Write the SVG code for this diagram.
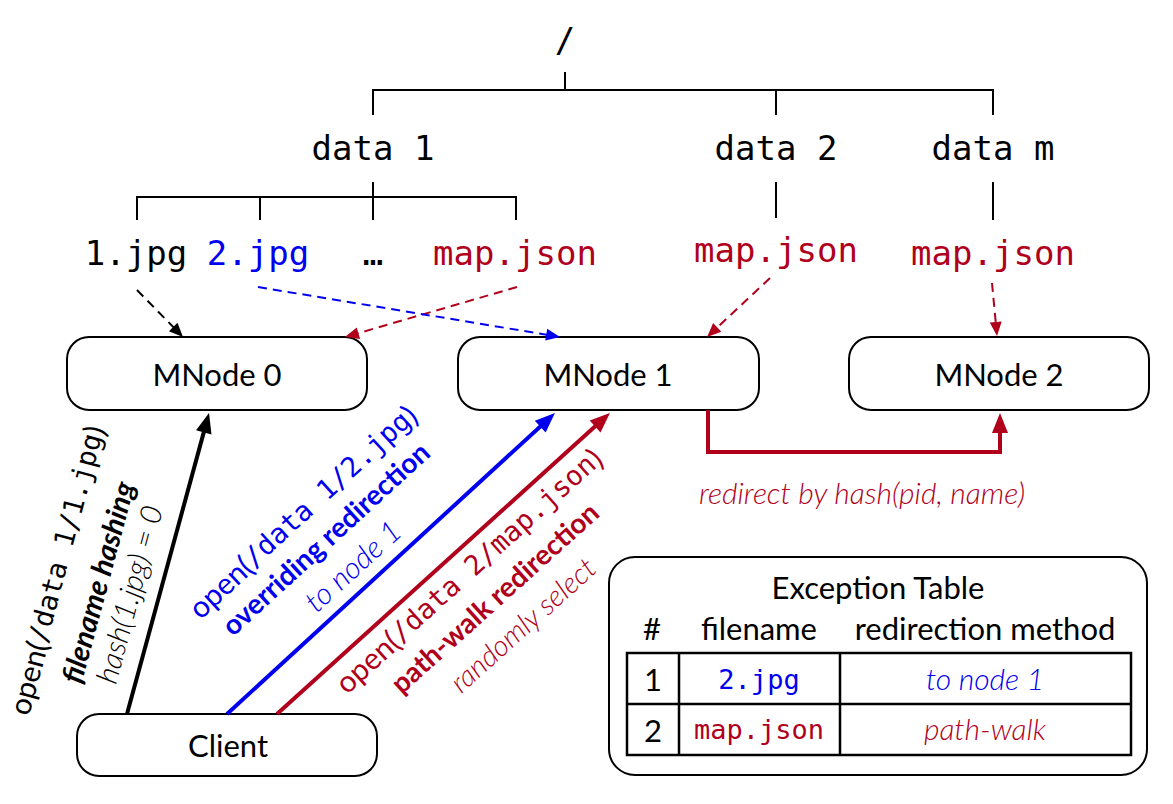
<svg xmlns="http://www.w3.org/2000/svg" width="1173" height="804" viewBox="0 0 1173 804">
<style>
.mono{font-family:"DejaVu Sans Mono","Liberation Mono",monospace;}
.sans{font-family:Lato,"Open Sans","Liberation Sans",sans-serif;}
.it{font-style:italic;font-weight:300;}
.tree{stroke:#000;stroke-width:2;fill:none;}
.box{fill:#fff;stroke:#000;stroke-width:2;}
.blk{fill:#000;} .blu{fill:#0000ee;} .red{fill:#b0001c;}
.dash{stroke-width:2;stroke-dasharray:9,6;fill:none;}
.solid{stroke-width:4;fill:none;}
</style>
<defs>
<marker id="hk" markerUnits="userSpaceOnUse" markerWidth="20" markerHeight="16" refX="2" refY="8" orient="auto" overflow="visible"><path d="M0,0 L20,8 L0,16 z" fill="#000"/></marker>
<marker id="hb" markerUnits="userSpaceOnUse" markerWidth="20" markerHeight="16" refX="2" refY="8" orient="auto" overflow="visible"><path d="M0,0 L20,8 L0,16 z" fill="#0000ee"/></marker>
<marker id="hr" markerUnits="userSpaceOnUse" markerWidth="20" markerHeight="16" refX="2" refY="8" orient="auto" overflow="visible"><path d="M0,0 L20,8 L0,16 z" fill="#b0001c"/></marker>
<marker id="dk" markerUnits="userSpaceOnUse" markerWidth="14" markerHeight="12" refX="2" refY="6" orient="auto" overflow="visible"><path d="M0,0 L14,6 L0,12 z" fill="#000"/></marker>
<marker id="db" markerUnits="userSpaceOnUse" markerWidth="14" markerHeight="12" refX="2" refY="6" orient="auto" overflow="visible"><path d="M0,0 L14,6 L0,12 z" fill="#0000ee"/></marker>
<marker id="dr" markerUnits="userSpaceOnUse" markerWidth="14" markerHeight="12" refX="2" refY="6" orient="auto" overflow="visible"><path d="M0,0 L14,6 L0,12 z" fill="#b0001c"/></marker>
</defs>

<g id="tree">
<text class="mono blk" x="565" y="52" font-size="34" text-anchor="middle">/</text>
<path class="tree" d="M565,72 V90 M373,115 V90 H993 V115 M776,90 V115"/>
<text class="mono blk" x="373" y="160" font-size="34" text-anchor="middle">data 1</text>
<text class="mono blk" x="776" y="160" font-size="34" text-anchor="middle">data 2</text>
<text class="mono blk" x="993" y="160" font-size="34" text-anchor="middle">data m</text>
<path class="tree" d="M373,182 V220 M137,220 V197 H516 V220 M260,197 V220 M776,182 V218 M993,182 V220"/>
<text class="mono blk" x="136" y="265" font-size="34" text-anchor="middle">1.jpg</text>
<text class="mono blu" x="258" y="265" font-size="34" text-anchor="middle">2.jpg</text>
<text class="mono blk" x="373" y="265" font-size="34" text-anchor="middle">…</text>
<text class="mono red" x="515" y="265" font-size="34" text-anchor="middle">map.json</text>
<text class="mono red" x="776" y="262" font-size="34" text-anchor="middle">map.json</text>
<text class="mono red" x="993" y="265" font-size="34" text-anchor="middle">map.json</text>
</g>

<g id="mnode0"><rect class="box" x="67" y="337" width="300" height="73" rx="22"/><text class="sans blk" x="217" y="386" font-size="31" text-anchor="middle">MNode 0</text></g>
<g id="mnode1"><rect class="box" x="458" y="337" width="301" height="73" rx="22"/><text class="sans blk" x="608" y="386" font-size="31" text-anchor="middle">MNode 1</text></g>
<g id="mnode2"><rect class="box" x="849" y="337" width="300" height="73" rx="22"/><text class="sans blk" x="999" y="386" font-size="31" text-anchor="middle">MNode 2</text></g>
<g id="client"><rect class="box" x="77" y="714" width="300" height="62" rx="22"/><text class="sans blk" x="228" y="757" font-size="31" text-anchor="middle">Client</text></g>

<g id="connectors">
<line class="dash" stroke="#000" x1="137" y1="290" x2="174.6" y2="328.4" marker-end="url(#dk)"/>
<line class="dash" stroke="#b0001c" x1="517" y1="287" x2="356.5" y2="333.7" marker-end="url(#dr)"/>
<line class="dash" stroke="#0000ee" x1="258" y1="287" x2="548.2" y2="335" marker-end="url(#db)"/>
<line class="dash" stroke="#b0001c" x1="770" y1="278" x2="715.8" y2="328.8" marker-end="url(#dr)"/>
<line class="dash" stroke="#b0001c" x1="992" y1="283" x2="995.9" y2="324" marker-end="url(#dr)"/>
<line class="solid" stroke="#000" x1="127" y1="714" x2="204.3" y2="430.4" marker-end="url(#hk)"/>
<line class="solid" stroke="#0000ee" x1="227" y1="714" x2="541.7" y2="425.2" marker-end="url(#hb)"/>
<line class="solid" stroke="#b0001c" x1="277" y1="714" x2="596.6" y2="425.1" marker-end="url(#hr)"/>
<path class="solid" stroke="#b0001c" d="M708,410 V452 H1000 V431" marker-end="url(#hr)"/>
</g>

<g id="labels">
<text class="sans red it" x="862" y="504" font-size="30" text-anchor="middle">redirect by hash(pid, name)</text>

<text class="sans blk" font-size="30" text-anchor="middle" dominant-baseline="central" transform="translate(56,570) rotate(-75)">open(<tspan class="mono" font-size="27.5">/data 1/1.jpg</tspan>)</text>
<text class="sans blk" font-size="29" font-weight="bold" font-style="italic" text-anchor="middle" dominant-baseline="central" transform="translate(97,582) rotate(-75)">filename hashing</text>
<text class="sans blk it" font-size="30" text-anchor="middle" dominant-baseline="central" transform="translate(128,594) rotate(-75)">hash(1.jpg) = 0</text>

<text class="sans blu" font-size="30" text-anchor="middle" dominant-baseline="central" transform="translate(302,511) rotate(-42.5)">open(<tspan class="mono" font-size="27.5">/data 1/2.jpg</tspan>)</text>
<text class="sans blu" font-size="28" font-weight="bold" text-anchor="middle" dominant-baseline="central" transform="translate(325,538) rotate(-42.5)">overriding redirection</text>
<text class="sans blu it" font-size="30" text-anchor="middle" dominant-baseline="central" transform="translate(352,565) rotate(-42.5)">to node 1</text>

<text class="sans red" font-size="30" text-anchor="middle" dominant-baseline="central" transform="translate(468,570) rotate(-42)">open(<tspan class="mono" font-size="27.5">/data 2/map.json</tspan>)</text>
<text class="sans red" font-size="28" font-weight="bold" text-anchor="middle" dominant-baseline="central" transform="translate(494,597) rotate(-42)">path-walk redirection</text>
<text class="sans red it" font-size="29" text-anchor="middle" dominant-baseline="central" transform="translate(522,624) rotate(-42)">randomly select</text>
</g>

<g id="exception-table">
<rect class="box" x="609" y="557" width="538" height="218" rx="26"/>
<text class="sans blk" x="878" y="599" font-size="31" text-anchor="middle">Exception Table</text>
<text class="sans blk" x="652" y="640" font-size="31" text-anchor="middle">#</text>
<text class="sans blk" x="759" y="640" font-size="31" text-anchor="middle">filename</text>
<text class="sans blk" x="985" y="640" font-size="31" text-anchor="middle">redirection method</text>
<path d="M627,653 H1131 V755 H627 Z M627,704 H1131 M679,653 V755 M840,653 V755" fill="none" stroke="#000" stroke-width="2.5"/>
<text class="sans blk" x="653" y="691" font-size="31" text-anchor="middle">1</text>
<text class="mono blu" x="759" y="689" font-size="27" text-anchor="middle">2.jpg</text>
<text class="sans blu it" x="985" y="690" font-size="30" text-anchor="middle">to node 1</text>
<text class="sans blk" x="653" y="742" font-size="31" text-anchor="middle">2</text>
<text class="mono red" x="759" y="739" font-size="27" text-anchor="middle">map.json</text>
<text class="sans red it" x="985" y="740" font-size="30" text-anchor="middle">path-walk</text>
</g>
</svg>
